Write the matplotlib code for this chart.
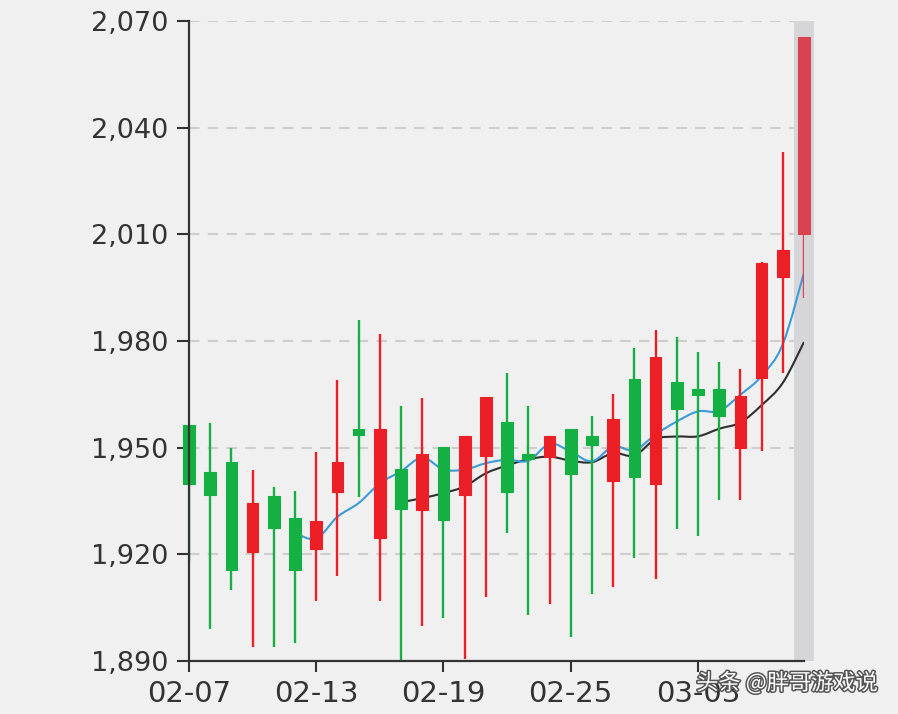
import matplotlib
matplotlib.use("Agg")
import matplotlib.pyplot as plt
import matplotlib.patheffects as pe
from matplotlib.path import Path
from matplotlib.patches import PathPatch, Rectangle
import numpy as np

dates = ["02-07", "02-08", "02-09", "02-10", "02-11", "02-12", "02-13", "02-14", "02-15", "02-16",
         "02-17", "02-18", "02-19", "02-20", "02-21", "02-22", "02-23", "02-24", "02-25", "02-26",
         "02-27", "02-28", "03-01", "03-02", "03-03", "03-04", "03-05", "03-06", "03-07", "03-08"]
opens = [1956.3, 1943.1, 1946.0, 1920.6, 1936.3, 1930.1, 1921.6, 1937.5, 1955.3, 1924.6,
         1944.1, 1932.6, 1950.2, 1936.7, 1947.6, 1957.2, 1948.1, 1947.5, 1955.2, 1953.3,
         1940.6, 1969.4, 1939.9, 1968.5, 1966.5, 1966.5, 1949.9, 1969.7, 1997.9, 2010.0]
closes = [1939.8, 1936.7, 1915.6, 1934.3, 1927.5, 1915.6, 1929.3, 1946.1, 1953.6, 1955.2,
          1932.7, 1948.2, 1929.7, 1953.3, 1964.3, 1937.6, 1946.7, 1953.3, 1942.6, 1950.7,
          1958.2, 1941.7, 1975.4, 1960.8, 1964.9, 1958.9, 1964.4, 2001.8, 2005.6, 2065.5]
lows = [1918.0, 1898.9, 1910.0, 1894.0, 1893.8, 1895.0, 1906.9, 1913.9, 1936.0, 1907.0,
        1889.0, 1899.8, 1902.0, 1890.7, 1908.1, 1926.1, 1902.9, 1905.9, 1896.8, 1908.8,
        1910.9, 1919.1, 1913.2, 1927.1, 1925.2, 1935.2, 1935.2, 1949.0, 1971.0, 1992.2]
highs = [1956.5, 1956.8, 1949.8, 1943.7, 1938.8, 1937.9, 1948.9, 1969.0, 1985.9, 1982.0,
         1961.7, 1963.9, 1950.2, 1953.3, 1964.3, 1970.9, 1961.8, 1953.3, 1955.2, 1958.9,
         1965.0, 1977.9, 1983.1, 1981.1, 1977.0, 1974.1, 1972.0, 2002.2, 2033.1, 2065.5]
yticks = [1890, 1920, 1950, 1980, 2010, 2040, 2070]
ma_short, ma_long = 5, 10
highlight_index = 29

UP = "#ec1f26"
DOWN = "#15b043"
HL = "#d8434f"
BG = "#f0f0f0"
AX = "#333333"

fig = plt.figure(figsize=(8.98, 7.14), dpi=100, facecolor=BG)
ax = fig.add_axes([189 / 898, 53 / 714, 615 / 898, 640 / 714])
ax.set_facecolor(BG)

n = len(closes)
x = np.arange(n)
ax.set_xlim(0, n - 1)
ax.set_ylim(yticks[0], yticks[-1])

# grid
for yv in yticks[1:]:
    ax.axhline(yv, color="#cdcdcd", lw=1.5, ls=(0, (5, 4)), zorder=1)

# highlight band
ax.add_patch(Rectangle((highlight_index - 0.47, yticks[0]), 0.94, yticks[-1] - yticks[0],
                       facecolor="#d6d6d8", edgecolor="none", zorder=2, clip_on=False))

bw = 0.55
for i in x:
    o, c, lo, hi = opens[i], closes[i], lows[i], highs[i]
    col = UP if c >= o else DOWN
    if i == highlight_index:
        col = HL
    ax.vlines(i, lo, hi, color=col, lw=1.7, zorder=4, clip_on=True)
    b0, b1 = min(o, c), max(o, c)
    ax.add_patch(Rectangle((i - bw / 2, b0), bw, max(b1 - b0, 0.6), facecolor=col,
                           edgecolor=col, lw=0.8, zorder=4, clip_on=False))


def ma(vals, k):
    # moving average that starts after the first k days
    out = []
    for i in range(len(vals)):
        if i < k:
            out.append(np.nan)
        else:
            out.append(sum(vals[i - k + 1:i + 1]) / k)
    return np.array(out)


def smooth_path(xs, ys, t=0.35):
    pts = list(zip(xs, ys))
    verts = [pts[0]]
    codes = [Path.MOVETO]
    for j in range(len(pts) - 1):
        p0 = pts[j - 1] if j > 0 else pts[j]
        p1 = pts[j]
        p2 = pts[j + 1]
        p3 = pts[j + 2] if j + 2 < len(pts) else pts[j + 1]
        c1 = (p1[0] + (p2[0] - p0[0]) * t / 2, p1[1] + (p2[1] - p0[1]) * t / 2)
        c2 = (p2[0] - (p3[0] - p1[0]) * t / 2, p2[1] - (p3[1] - p1[1]) * t / 2)
        verts += [c1, c2, p2]
        codes += [Path.CURVE4] * 3
    return Path(verts, codes)


for k, col in [(ma_long, "#2f2f2f"), (ma_short, "#3b9bd8")]:
    m = ma(closes, k)
    ok = ~np.isnan(m)
    ax.add_patch(PathPatch(smooth_path(x[ok], m[ok]), facecolor="none", edgecolor=col,
                           lw=1.5, zorder=3))

for s in ["top", "right"]:
    ax.spines[s].set_visible(False)
for s in ["left", "bottom"]:
    ax.spines[s].set_color(AX)
    ax.spines[s].set_linewidth(1.6)
    ax.spines[s].set_zorder(6)

ax.set_yticks(yticks)
ax.set_yticklabels([f"{v:,}" for v in yticks], fontsize=19.5, color=AX)
ax.tick_params(axis="y", length=9, width=1.5, color=AX, pad=6)
ax.set_xticks(x[::6])
ax.set_xticklabels([dates[i] for i in x[::6]], fontsize=21, color=AX)
ax.tick_params(axis="x", length=8, width=1.5, color=AX, pad=6)

fig.text(878 / 898, 1 - 683 / 714, "头条 @胖哥游戏说", ha="right", va="center", fontsize=16,
         color="white", family=["Noto Sans CJK SC", "DejaVu Sans"],
         path_effects=[pe.withStroke(linewidth=2.2, foreground="#555555")])

fig.savefig("out.png", dpi=100, facecolor=BG)
